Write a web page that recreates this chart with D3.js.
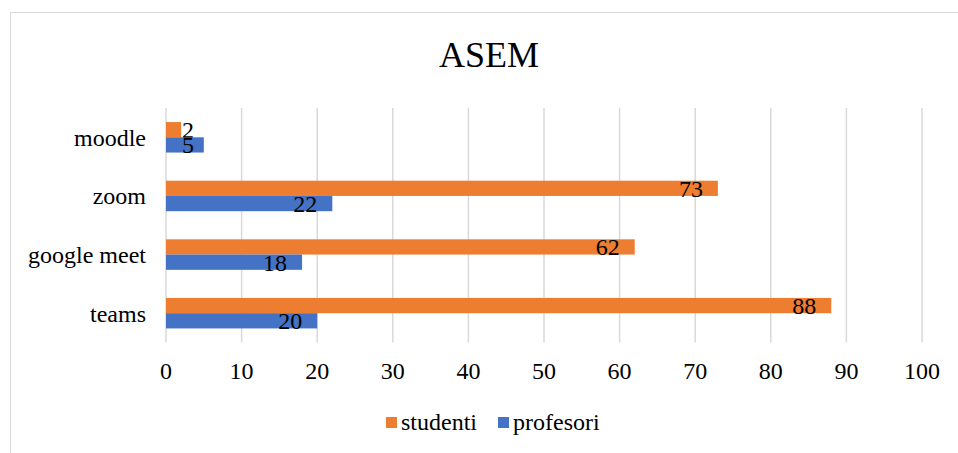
<!DOCTYPE html>
<html lang="en">

<head>
    <meta charset="UTF-8">
    <title>ASEM</title>
    <script src="https://d3js.org/d3.v7.min.js"></script>
    <style>
        body { margin: 0; background: #fff; }
        svg { display: block; font-family: "Liberation Serif", "Times New Roman", serif; }
    </style>
</head>

<body>
    <svg id="chart"></svg>

    <script>
        // data
        const categories = ["moodle", "zoom", "google meet", "teams"];
        const studenti = [2, 73, 62, 88];
        const profesori = [5, 22, 18, 20];
        const seriesNames = ["studenti", "profesori"];
        const seriesColors = ["#ED7D31", "#4472C4"];
        const xTicks = [0, 10, 20, 30, 40, 50, 60, 70, 80, 90, 100];

        const width = 958, height = 453;
        const svg = d3.select("#chart").attr("width", width).attr("height", height);

        // chart border (runs off the right and bottom edge)
        svg.append("rect")
            .attr("x", 10.5).attr("y", 12.5)
            .attr("width", 960).attr("height", 460)
            .attr("fill", "none").attr("stroke", "#d9d9d9");

        svg.append("text")
            .attr("x", 489).attr("y", 67)
            .attr("text-anchor", "middle")
            .attr("font-size", "36px")
            .text("ASEM");

        const x = d3.scaleLinear().domain([0, 100]).range([166, 922]);
        const y = d3.scaleBand().domain(categories).range([108, 342.5]);
        const barH = y.bandwidth() * 0.26;

        // vertical gridlines
        svg.append("g").selectAll("line")
            .data(xTicks)
            .join("line")
            .attr("x1", d => x(d)).attr("x2", d => x(d))
            .attr("y1", 108).attr("y2", 342.5)
            .attr("stroke", "#d9d9d9").attr("stroke-width", 1.5);

        // x tick labels
        svg.append("g").selectAll("text")
            .data(xTicks)
            .join("text")
            .attr("x", d => x(d)).attr("y", 379)
            .attr("text-anchor", "middle")
            .attr("font-size", "24px")
            .text(d => d);

        // category labels
        svg.append("g").selectAll("text")
            .data(categories)
            .join("text")
            .attr("x", 146)
            .attr("y", d => y(d) + y.bandwidth() / 2 + 8.5)
            .attr("text-anchor", "end")
            .attr("font-size", "24px")
            .text(d => d);

        // bars: studenti on top, profesori below
        const seriesValues = [studenti, profesori];
        seriesValues.forEach((vals, s) => {
            const g = svg.append("g");
            const top = (c) => y(c) + y.bandwidth() / 2 - barH + s * barH;
            g.selectAll("rect")
                .data(categories)
                .join("rect")
                .attr("x", x(0))
                .attr("y", c => top(c))
                .attr("width", (c, i) => x(vals[i]) - x(0))
                .attr("height", barH)
                .attr("fill", seriesColors[s]);

            g.selectAll("text")
                .data(categories)
                .join("text")
                .attr("x", (c, i) => Math.max(x(vals[i]) - 15, x(0) + 28))
                .attr("y", c => top(c) + barH / 2 + 8.5)
                .attr("text-anchor", "end")
                .attr("font-size", "24px")
                .text((c, i) => vals[i]);
        });

        // legend
        const legendX = [386, 498];
        seriesNames.forEach((name, i) => {
            svg.append("rect")
                .attr("x", legendX[i]).attr("y", 417)
                .attr("width", 11).attr("height", 11)
                .attr("fill", seriesColors[i]);
            svg.append("text")
                .attr("x", legendX[i] + 15).attr("y", 430)
                .attr("font-size", "24px")
                .text(name);
        });
    </script>
</body>

</html>
